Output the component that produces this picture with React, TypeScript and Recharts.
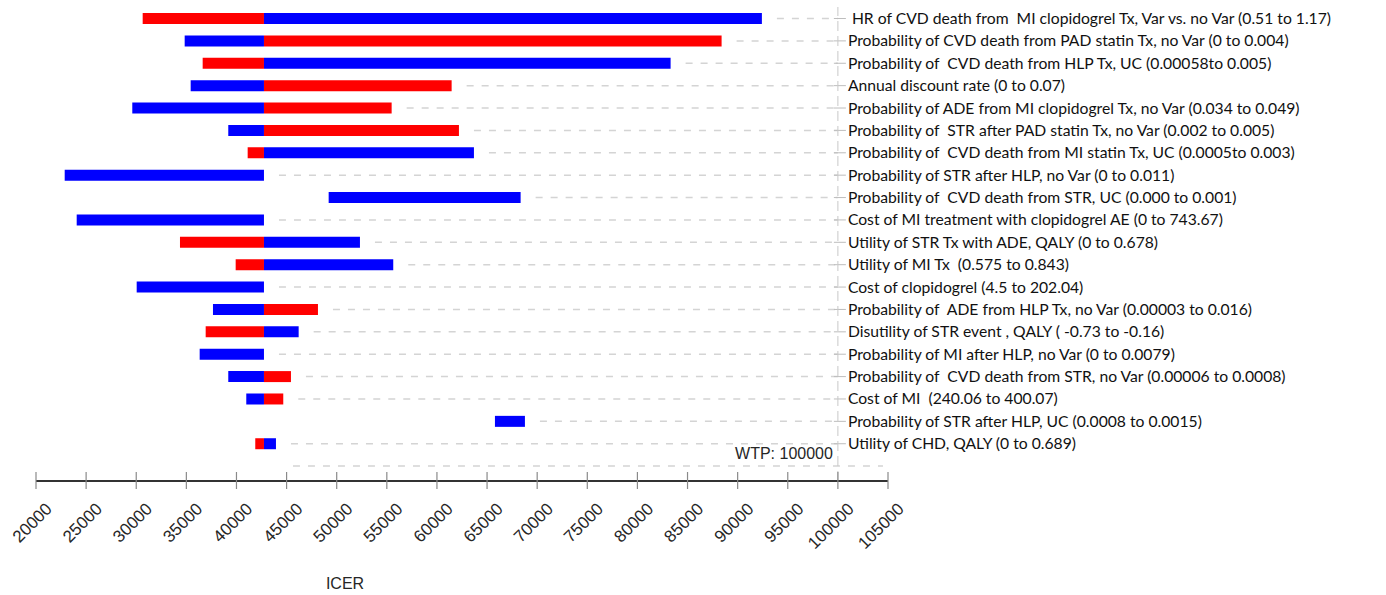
import { BarChart, Bar, XAxis, YAxis, ReferenceLine } from 'recharts';

const BASE = 42743;
const WTP = 100000;
const X_MIN = 20000;
const X_MAX = 105000;

const labels = [
  ' HR of CVD death from  MI clopidogrel Tx, Var vs. no Var (0.51 to 1.17)',
  'Probability of CVD death from PAD statin Tx, no Var (0 to 0.004)',
  'Probability of  CVD death from HLP Tx, UC (0.00058to 0.005)',
  'Annual discount rate (0 to 0.07)',
  'Probability of ADE from MI clopidogrel Tx, no Var (0.034 to 0.049)',
  'Probability of  STR after PAD statin Tx, no Var (0.002 to 0.005)',
  'Probability of  CVD death from MI statin Tx, UC (0.0005to 0.003)',
  'Probability of STR after HLP, no Var (0 to 0.011)',
  'Probability of  CVD death from STR, UC (0.000 to 0.001)',
  'Cost of MI treatment with clopidogrel AE (0 to 743.67)',
  'Utility of STR Tx with ADE, QALY (0 to 0.678)',
  'Utility of MI Tx  (0.575 to 0.843)',
  'Cost of clopidogrel (4.5 to 202.04)',
  'Probability of  ADE from HLP Tx, no Var (0.00003 to 0.016)',
  'Disutility of STR event , QALY ( -0.73 to -0.16)',
  'Probability of MI after HLP, no Var (0 to 0.0079)',
  'Probability of  CVD death from STR, no Var (0.00006 to 0.0008)',
  'Cost of MI  (240.06 to 400.07)',
  'Probability of STR after HLP, UC (0.0008 to 0.0015)',
  'Utility of CHD, QALY (0 to 0.689)',
];

// red segment (low/high ICER)
const redLow = [30643, BASE, 36628, BASE, BASE, BASE, 41117, null, null, null, 34364, 39920, null, BASE, 36928, null, BASE, BASE, null, 41875];
const redHigh = [BASE, 88399, BASE, 61466, 55481, 62195, BASE, null, null, null, BASE, BASE, null, 48130, BASE, null, 45436, 44669, null, BASE];

// blue segment
const blueLow = [BASE, 34833, BASE, 35431, 29606, 39182, BASE, 22863, 49197, 24060, BASE, BASE, 30045, 37656, BASE, 36329, 39182, 40978, 65786, BASE];
const blueHigh = [92419, BASE, 83312, BASE, BASE, BASE, 63691, BASE, 68349, BASE, 52319, 55641, BASE, BASE, 46204, BASE, BASE, BASE, 68778, 43940];

const blankRowEnd = 44140;

const xTicks = [20000, 25000, 30000, 35000, 40000, 45000, 50000, 55000, 60000, 65000, 70000, 75000, 80000, 85000, 90000, 95000, 100000, 105000];

const data = [
  ...labels.map((label, i) => {
    const ends = [redHigh[i], blueHigh[i]].filter((v) => v != null) as number[];
    return {
      label,
      red: redLow[i] != null ? [redLow[i], redHigh[i]] : null,
      blue: blueLow[i] != null ? [blueLow[i], blueHigh[i]] : null,
      leader: [Math.max(...ends), WTP],
    };
  }),
  { label: '', red: null, blue: null, leader: [blankRowEnd, X_MAX - 500] },
];

const LeaderShape = (props: any) => {
  const { x, y, width, height, payload } = props;
  if (x == null || !payload) return null;
  const cy = y + height / 2;
  const end = x + width;
  return (
    <g>
      <line x1={x + 15} x2={end} y1={cy} y2={cy} stroke="#d4d4d4" strokeWidth={1.5} strokeDasharray="7 8" />
      {payload.label ? (
        <>
          <line x1={end - 4} x2={end + 8} y1={cy} y2={cy} stroke="#bdbdbd" strokeWidth={1} />
          <text
            x={end + 10}
            y={cy}
            dy="0.35em"
            fontFamily="Lato, 'Noto Sans', sans-serif"
            fontSize={15.7}
            fill="#111"
            style={{ whiteSpace: 'pre' }}
          >
            {payload.label}
          </text>
        </>
      ) : null}
    </g>
  );
};

const XTick = (props: any) => {
  const { x, y, payload } = props;
  const ax = x + 17;
  const ay = y + 29;
  return (
    <g>
      <line x1={x} x2={x} y1={y - 9} y2={y + 8} stroke="#8a8a8a" strokeWidth={1.2} />
      <text
        x={ax}
        y={ay}
        textAnchor="end"
        transform={`rotate(-45, ${ax}, ${ay})`}
        fontFamily="'Liberation Sans', Arial, sans-serif"
        fontSize={17}
        fill="#262626"
      >
        {payload.value}
      </text>
    </g>
  );
};

export default function App() {
  return (
    <div style={{ position: 'absolute', left: 0, top: 0, width: 1386, height: 595, background: '#fff' }}>
      <BarChart
        width={1386}
        height={595}
        data={data}
        layout="vertical"
        barGap={-11}
        margin={{ top: 7, right: 498, bottom: 0, left: 36 }}
      >
        <XAxis
          type="number"
          domain={[X_MIN, X_MAX]}
          ticks={xTicks}
          interval={0}
          height={114}
          tickSize={0}
          tickMargin={0}
          tickLine={false}
          tick={<XTick />}
          axisLine={{ stroke: '#333', strokeWidth: 2 }}
          label={(p: any) => (
            <text
              x={p.viewBox.x + 309}
              y={p.viewBox.y + 102}
              textAnchor="middle"
              dominantBaseline="central"
              fontFamily="'Liberation Sans', Arial, sans-serif"
              fontSize={16}
              fill="#262626"
            >
              ICER
            </text>
          )}
        />
        <YAxis type="category" dataKey="label" hide padding={{ top: 0, bottom: 4 }} />
        <ReferenceLine
          x={WTP}
          stroke="#c8c8c8"
          strokeWidth={1}
          strokeDasharray="10 5"
          label={(p: any) => (
            <text
              x={p.viewBox.x - 5}
              y={p.viewBox.y + p.viewBox.height - 22}
              textAnchor="end"
              fontFamily="'Liberation Sans', Arial, sans-serif"
              fontSize={16}
              fill="#262626"
            >
              WTP: 100000
            </text>
          )}
        />
        <Bar dataKey="leader" barSize={11} shape={<LeaderShape />} isAnimationActive={false} />
        <Bar dataKey="red" barSize={11} fill="#ff0000" isAnimationActive={false} />
        <Bar dataKey="blue" barSize={11} fill="#0000ff" isAnimationActive={false} />
      </BarChart>
    </div>
  );
}
